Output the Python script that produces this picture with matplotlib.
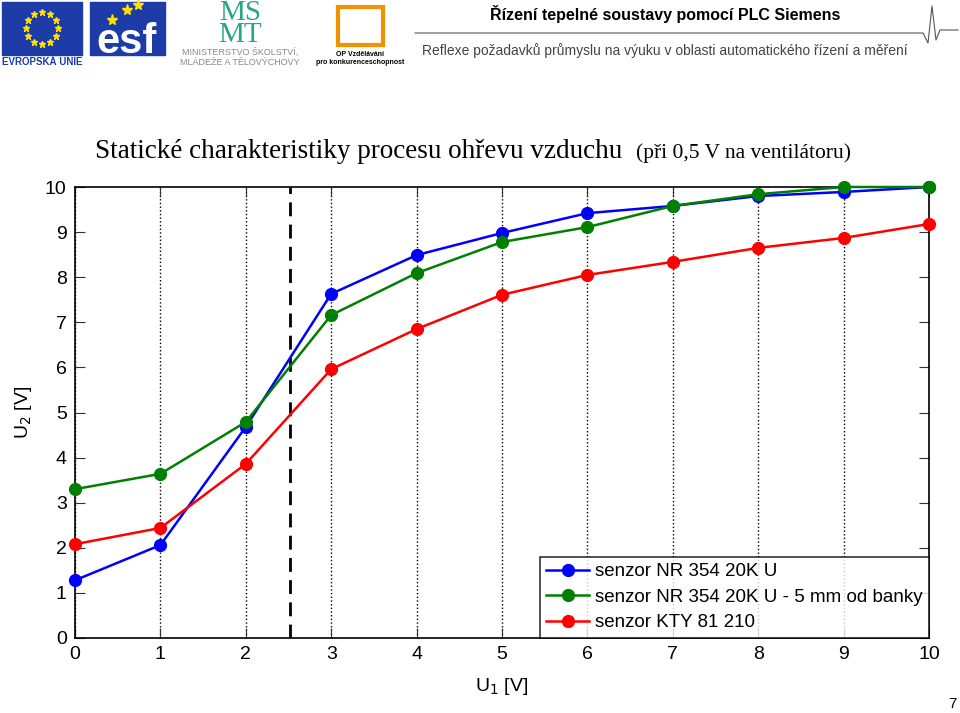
import numpy as np
import matplotlib.pyplot as plt
import matplotlib.patches as mpatches

# data
u1 = [0, 1, 2, 3, 4, 5, 6, 7, 8, 9, 10]
u2_nr354 = [1.28, 2.06, 4.68, 7.63, 8.49, 8.98, 9.42, 9.58, 9.80, 9.89, 10.0]
u2_nr354_5mm = [3.30, 3.64, 4.79, 7.16, 8.09, 8.78, 9.11, 9.58, 9.84, 10.0, 10.0]
u2_kty = [2.08, 2.44, 3.86, 5.96, 6.85, 7.61, 8.05, 8.34, 8.65, 8.87, 9.18]
labels = ["senzor NR 354 20K U", "senzor NR 354 20K U - 5 mm od banky", "senzor KTY 81 210"]
colors = ["#0000ff", "#008000", "#ff0000"]
u1_mark = 2.52

plt.rcParams['font.family'] = ['Liberation Sans', 'DejaVu Sans']

fig = plt.figure(figsize=(9.6, 7.13), dpi=100)
W, H = 960, 713

def fx(px):
    return px / W

def fy(py):
    return 1 - py / H

# --- header (logos approximated) ---
# EU flag
fig.patches.append(mpatches.Rectangle((fx(2), fy(55)), fx(80), 53 / H, transform=fig.transFigure,
                                      color="#1d3ca8", zorder=1))
ang = np.linspace(0, 2 * np.pi, 13)[:-1]
fig.add_artist(plt.Line2D(fx(42) + 16 / W * np.cos(ang), fy(28) + 16 / H * np.sin(ang),
                          transform=fig.transFigure, ls="none", marker="*", ms=5, color="#ffe000"))
fig.text(fx(42), fy(62), "EVROPSKÁ UNIE", ha="center", va="center", fontsize=7, color="#1d3ca8", weight="bold")
# ESF logo
fig.patches.append(mpatches.Rectangle((fx(90), fy(55)), fx(75), 53 / H, transform=fig.transFigure,
                                      color="#1d3ca8", zorder=1))
fig.text(fx(127), fy(42), "esf", ha="center", va="center", fontsize=30, color="white", weight="bold")
fig.add_artist(plt.Line2D([fx(112), fx(127), fx(138)], [fy(20), fy(10), fy(5)], transform=fig.transFigure,
                          ls="none", marker="*", ms=8, color="#ffe000"))
# MSMT logo
fig.text(fx(240), fy(24), "MŠ\nMT", ha="center", va="center", fontsize=21, color="#2aa58a",
         family=['Liberation Serif'], linespacing=0.75)
fig.text(fx(240), fy(57), "MINISTERSTVO ŠKOLSTVÍ,\nMLÁDEŽE A TĚLOVÝCHOVY", ha="center", va="center",
         fontsize=6.5, color="#888888")
# OP logo
fig.patches.append(mpatches.Rectangle((fx(338), fy(45)), fx(45), 38 / H, transform=fig.transFigure,
                                      fill=False, ec="#f39200", lw=3, zorder=1))
fig.text(fx(360), fy(54), "OP Vzdělávání", ha="center", va="center", fontsize=5, weight="bold")
fig.text(fx(360), fy(63), "pro konkurenceschopnost", ha="center", va="center", fontsize=5, weight="bold")

fig.text(fx(665), fy(14), "Řízení tepelné soustavy pomocí PLC Siemens", ha="center", va="center",
         fontsize=11.5, weight="bold")
fig.add_artist(plt.Line2D([fx(415), fx(923), fx(928), fx(932), fx(936), fx(940), fx(958)],
                          [fy(33), fy(33), fy(43), fy(6), fy(40), fy(30), fy(30)],
                          transform=fig.transFigure, color="#555555", lw=0.8))
fig.text(fx(665), fy(51), "Reflexe požadavků průmyslu na výuku v oblasti automatického řízení a měření",
         ha="center", va="center", fontsize=10, color="#444444")

# --- title ---
fig.text(fx(95), fy(152), "Statické charakteristiky procesu ohřevu vzduchu", ha="left", va="center",
         fontsize=19.5, family=['Liberation Serif'])
fig.text(fx(636), fy(153), "(při 0,5 V na ventilátoru)", ha="left", va="center",
         fontsize=15.5, family=['Liberation Serif'])

# --- chart ---
ax = fig.add_axes([fx(75), fy(638), fx(929 - 75), (638 - 187) / H])
for y, lab, c in zip([u2_nr354, u2_nr354_5mm, u2_kty], labels, colors):
    ax.plot(u1, y, color=c, lw=1.8, marker="o", ms=8.5, label=lab, clip_on=False, zorder=3)
ax.axvline(u1_mark, color="black", ls=(0, (5, 3)), lw=2)

ax.set_xlim(0, 10)
ax.set_ylim(0, 10)
ax.set_xticks(u1)
ax.set_yticks(range(11))
ax.grid(axis="x", ls=":", color="black", lw=1)
ax.tick_params(direction="in", length=7, labelsize=14, top=True, right=True, pad=6, color="#333333")
for s in ax.spines.values():
    s.set_linewidth(1.2)
ax.set_xlabel("U$_1$ [V]", fontsize=14, labelpad=8)
ax.xaxis.set_label_coords(0.5, -0.085)
ax.set_ylabel("U$_2$ [V]", fontsize=14, labelpad=8)
leg = ax.legend(loc="lower right", fontsize=13.5, frameon=True, fancybox=False, edgecolor="black",
                borderaxespad=0, handlelength=2.3, handletextpad=0.3, labelspacing=0.45, borderpad=0.35)
leg.get_frame().set_linewidth(1.2)

fig.text(fx(952), fy(704), "7", ha="center", va="center", fontsize=11)

fig.savefig("out.png", dpi=100)
